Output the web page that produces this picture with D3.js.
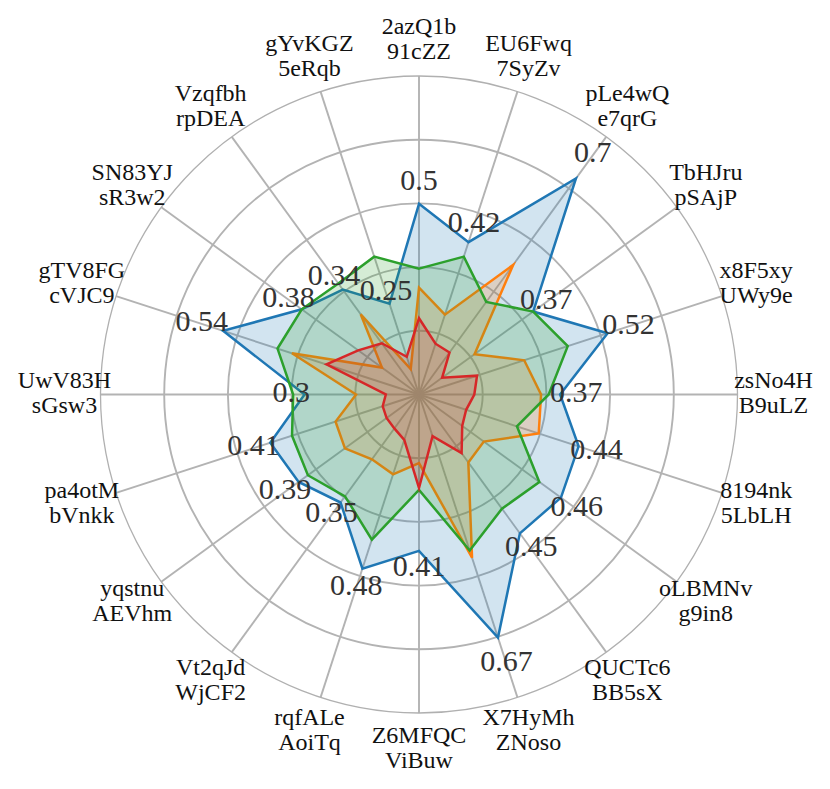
<!DOCTYPE html>
<html>
<head>
<meta charset="utf-8">
<script src="https://cdn.jsdelivr.net/npm/d3@7"></script>
<style>
  html, body { margin: 0; padding: 0; background: #fff; }
  svg { display: block; }
  text { font-family: "Liberation Serif", "DejaVu Serif", serif; }
</style>
</head>
<body>
<svg id="chart" width="830" height="789"></svg>
<script>
const categories = [
  "2azQ1b\n91cZZ", "EU6Fwq\n7SyZv", "pLe4wQ\ne7qrG", "TbHJru\npSAjP", "x8F5xy\nUWy9e",
  "zsNo4H\nB9uLZ", "8194nk\n5LbLH", "oLBMNv\ng9in8", "QUCTc6\nBB5sX", "X7HyMh\nZNoso",
  "Z6MFQC\nViBuw", "rqfALe\nAoiTq", "Vt2qJd\nWjCF2", "yqstnu\nAEVhm", "pa4otM\nbVnkk",
  "UwV83H\nsGsw3", "gTV8FG\ncVJC9", "SN83YJ\nsR3w2", "Vzqfbh\nrpDEA", "gYvKGZ\n5eRqb"
];
const seriesBlue   = [0.50, 0.42, 0.70, 0.37, 0.52, 0.37, 0.44, 0.46, 0.45, 0.67, 0.41, 0.48, 0.35, 0.39, 0.41, 0.30, 0.54, 0.38, 0.34, 0.25];
const seriesOrange = [0.28, 0.22, 0.42, 0.18, 0.29, 0.32, 0.33, 0.21, 0.22, 0.45, 0.18, 0.22, 0.21, 0.24, 0.23, 0.165, 0.35, 0.12, 0.26, 0.07];
const seriesGreen  = [0.33, 0.38, 0.30, 0.37, 0.41, 0.34, 0.27, 0.39, 0.37, 0.43, 0.25, 0.40, 0.33, 0.36, 0.35, 0.33, 0.39, 0.38, 0.36, 0.38];
const seriesRed    = [0.20, 0.14, 0.136, 0.075, 0.16, 0.145, 0.13, 0.14, 0.19, 0.115, 0.245, 0.125, 0.11, 0.105, 0.10, 0.087, 0.255, 0.197, 0.166, 0.104];
const seriesColors = ["#1f77b4", "#ff7f0e", "#2ca02c", "#d62728"];
const radialMax = 0.835;
const gridCount = 5;

const series = [seriesBlue, seriesOrange, seriesGreen, seriesRed];
const cx = 419, cy = 394.5, R = 318.5;
const svg = d3.select("#chart");
const g = svg.append("g").attr("transform", `translate(${cx},${cy})`);

const r = d3.scaleLinear().domain([0, radialMax]).range([0, R]);
const angle = d3.scaleLinear().domain([0, categories.length]).range([0, 2 * Math.PI]);

// grid circles
const gridVals = d3.range(1, gridCount).map(i => radialMax * i / gridCount);
g.selectAll("circle.grid").data(gridVals).join("circle")
  .attr("class", "grid").attr("r", d => r(d))
  .attr("fill", "none").attr("stroke", "#b3b3b3").attr("stroke-width", 1.9);
// spokes
g.selectAll("line.spoke").data(categories).join("line")
  .attr("x1", 0).attr("y1", 0)
  .attr("x2", (d, i) => R * Math.sin(angle(i)))
  .attr("y2", (d, i) => -R * Math.cos(angle(i)))
  .attr("stroke", "#b3b3b3").attr("stroke-width", 1.9);
// outer spine
g.append("circle").attr("r", R).attr("fill", "none")
  .attr("stroke", "#b0b0b0").attr("stroke-width", 1.3);

const line = d3.lineRadial()
  .angle((d, i) => angle(i))
  .radius(d => r(d))
  .curve(d3.curveLinearClosed);

series.forEach((vals, si) => {
  g.append("path").attr("d", line(vals))
    .attr("fill", seriesColors[si]).attr("fill-opacity", 0.2).attr("stroke", "none");
  g.append("path").attr("d", line(vals))
    .attr("fill", "none").attr("stroke", seriesColors[si])
    .attr("stroke-width", 2.5).attr("stroke-linejoin", "miter");
});

// axis labels
const labelR = 354.5;
categories.forEach((c, i) => {
  const a = angle(i);
  const x = labelR * Math.sin(a), y = -labelR * Math.cos(a);
  const lines = c.split("\n");
  const t = g.append("text").attr("text-anchor", "middle")
    .attr("font-size", 24).attr("fill", "#111");
  t.append("tspan").attr("x", x).attr("y", y - 6.5).text(lines[0]);
  t.append("tspan").attr("x", x).attr("y", y + 18.5).text(lines[1]);
});

// value labels for first series
const fmt = v => String(+v.toFixed(2));
seriesBlue.forEach((v, i) => {
  const a = angle(i);
  const rr = r(v * 1.1) + 2;
  const x = rr * Math.sin(a), y = -rr * Math.cos(a) - 3;
  g.append("text").attr("x", x).attr("y", y).attr("dy", "0.34em")
    .attr("text-anchor", "middle").attr("font-size", 30).attr("fill", "#333")
    .text(fmt(v));
});
</script>
</body>
</html>
